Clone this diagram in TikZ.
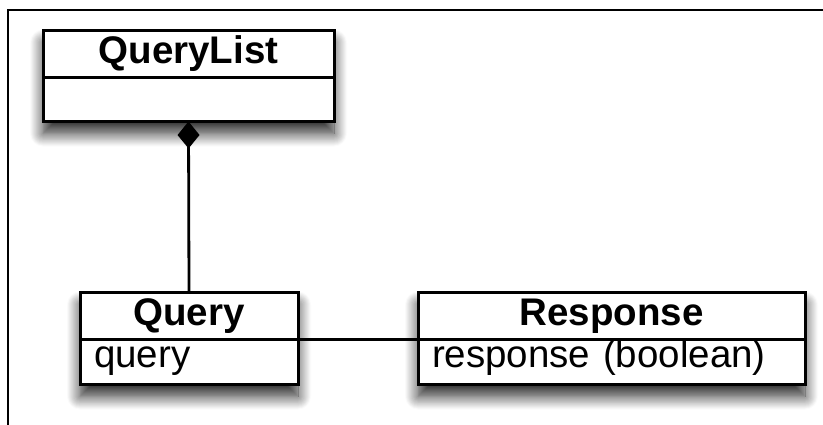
\documentclass[tikz,border=0pt]{standalone}
\usepackage{fontspec}
\setmainfont{Liberation Sans}
\usetikzlibrary{arrows.meta, positioning, fit, backgrounds, shadows.blur}

\begin{document}
\begin{tikzpicture}[
  x=1pt, y=-1pt,
  node distance=0pt,
  classhead/.style={rectangle, draw, line width=3pt, fill=white, inner sep=0pt, outer sep=0pt, font=\fontsize{38.5}{44}\selectfont\bfseries, text height=27pt, text depth=8pt, minimum height=47pt},
  classbody/.style={rectangle, draw, line width=3pt, fill=white, inner xsep=14pt, inner ysep=0pt, outer sep=0pt, font=\fontsize{38.5}{44}\selectfont, align=left, text height=27pt, text depth=17pt, minimum height=45pt},
  classshadow/.style={rectangle, inner sep=0pt, blur shadow={shadow xshift=0pt, shadow yshift=-12pt, shadow blur radius=13pt, shadow blur steps=14, shadow opacity=85}},
  link/.style={line width=2.8pt},
  frame/.style={line width=2.5pt}
]
  \useasboundingbox (0,0) rectangle (823,425);

  % Outer frame (top and left edges only)
  \draw[frame] (8,425) -- (8,10) -- (823,10);

  % QueryList class
  \node[classhead, minimum width=291pt] (qlhead) at (188.5,54) {QueryList};
  \node[classbody, minimum width=291pt, minimum height=39pt, below=of qlhead] (qlbody) {};

  % Query class
  \node[classhead, minimum width=218pt] (qhead) at (189,316) {Query};
  \node[classbody, text width=190pt, below=of qhead] (qbody) {query};

  % Response class
  \node[classhead, minimum width=387pt] (rhead) at (611.5,316) {Response};
  \node[classbody, text width=359pt, below=of rhead] (rbody) {response (boolean)};

  % Shadows
  \begin{scope}[on background layer]
    \node[classshadow, fit=(qlhead)(qlbody)] (qlshadow) {};
    \node[classshadow, fit=(qhead)(qbody)] (qshadow) {};
    \node[classshadow, fit=(rhead)(rbody)] (rshadow) {};
  \end{scope}

  % Connections
  \draw[link, {Diamond[length=27pt, width=22pt]}-] (qlbody.south) -- (qhead.north);
  \draw[link] (qbody.north east) -- (rbody.north west);
\end{tikzpicture}
\end{document}
